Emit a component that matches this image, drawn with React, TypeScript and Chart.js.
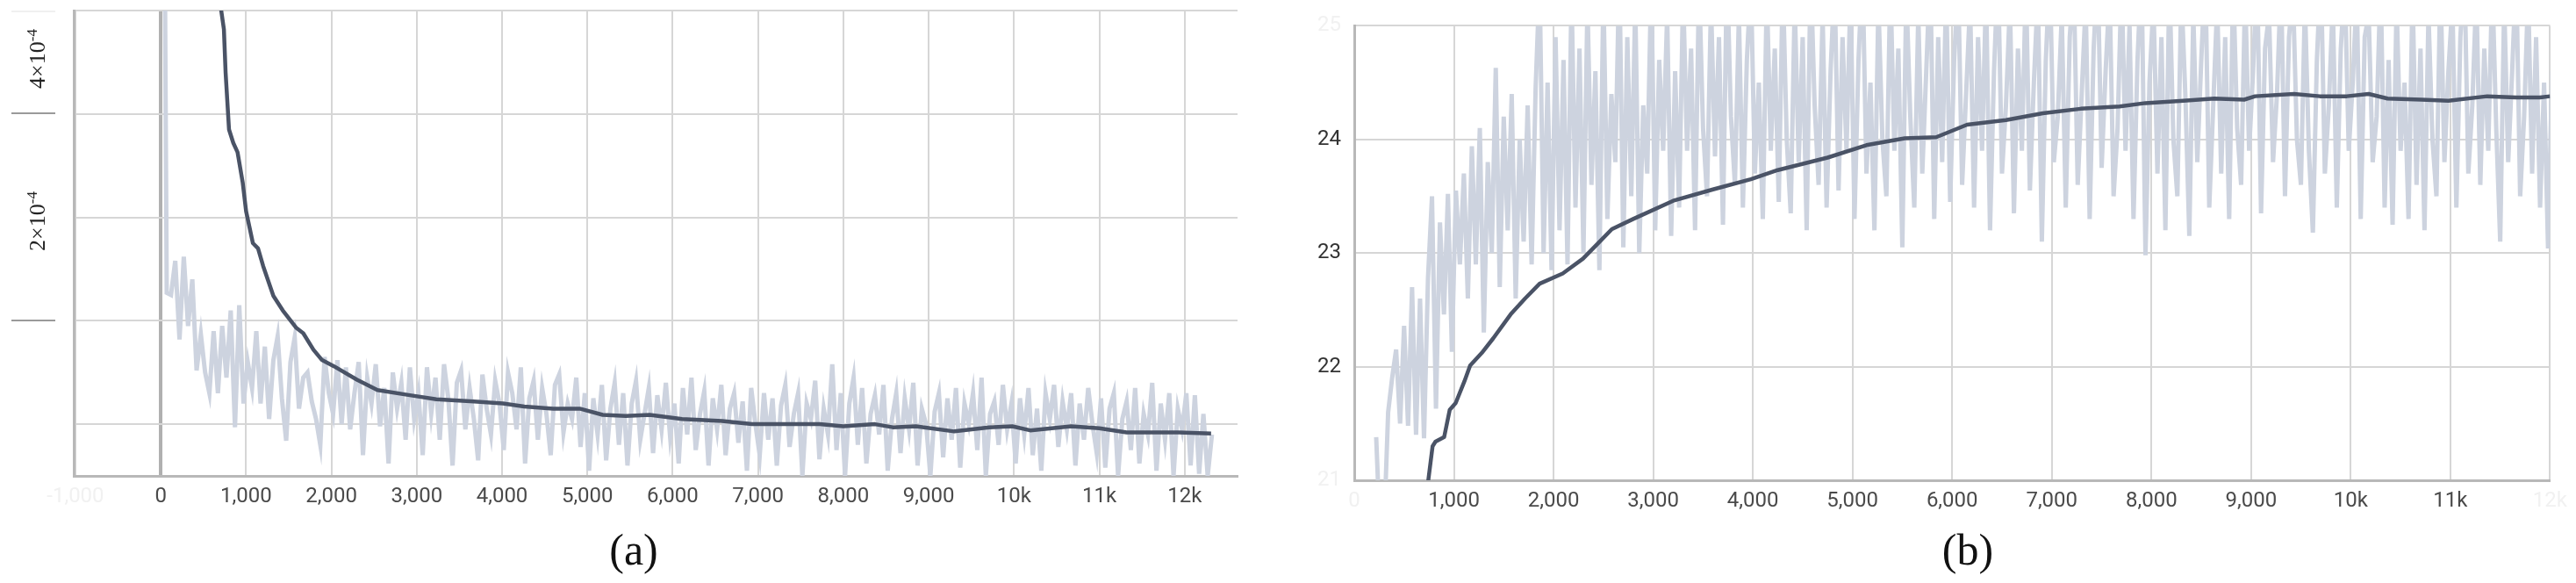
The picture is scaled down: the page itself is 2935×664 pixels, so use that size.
import React, { useEffect, useRef } from "react";
import { Chart, registerables } from "chart.js";

Chart.register(...registerables);

// ---------------- (a) training loss (values in units of 1e-4) ----------------
const lossRawStart = 20;
const lossRawInterval = 50;
const lossRaw = [
  9.5, 2.27, 2.25, 2.58, 1.82, 2.62, 1.95, 2.4, 1.52, 1.87, 1.5, 1.3, 1.9, 1.3, 1.95, 1.45, 2.1, 0.97, 2.15, 1.2,
  1.6, 1.35, 1.9, 1.2, 1.75, 1.05, 1.62, 1.85, 1.25, 0.84, 1.6, 1.84, 1.15, 1.45, 1.5, 1.22, 1.05, 0.8, 1.65, 1.3,
  1.1, 1.62, 1.0, 1.55, 0.95, 1.3, 1.6, 0.7, 1.45, 1.2, 1.58, 0.98, 1.35, 0.62, 1.5, 1.15, 1.4, 0.85, 1.55, 1.05,
  1.3, 0.7, 1.55, 1.1, 1.45, 0.85, 1.58, 1.25, 0.6, 1.4, 1.52, 0.95, 1.35, 1.05, 0.65, 1.48, 1.15, 0.9, 1.42, 1.2,
  0.75, 1.5, 1.3, 0.95, 1.55, 0.62, 1.25, 1.42, 0.85, 1.35, 1.1, 0.7, 1.38, 1.48, 0.92, 1.2, 1.05, 1.45, 0.78, 1.3,
  0.55, 1.25, 0.9, 1.38, 0.65, 1.15, 1.4, 0.8, 1.3, 0.6, 1.2, 1.42, 0.85, 1.1, 1.35, 0.72, 1.28, 0.95, 1.4, 0.88,
  1.2, 0.62, 1.35, 0.9, 1.45, 0.75, 1.1, 1.32, 0.6, 1.25, 0.95, 1.38, 0.7, 1.15, 1.3, 0.82, 1.22, 0.55, 1.35, 1.0,
  0.7, 1.3, 0.85, 1.25, 0.6, 1.18, 1.38, 0.78, 1.1, 1.3, 0.5, 1.2, 1.05, 1.42, 0.66, 1.15, 0.9, 1.58, 0.75, 1.3,
  0.5, 1.2, 1.45, 0.8, 1.35, 0.62, 1.1, 1.28, 0.9, 1.38, 0.55, 1.05, 1.3, 0.72, 1.25, 0.95, 1.4, 0.6, 1.15, 1.0,
  0.5, 1.12, 1.3, 0.68, 1.25, 0.85, 1.35, 0.58, 1.2, 1.0, 1.3, 0.75, 1.45, 0.5, 1.1, 1.22, 0.8, 1.38, 0.95, 1.2,
  0.62, 1.25, 0.9, 1.35, 0.7, 1.15, 0.55, 1.3, 1.05, 1.38, 0.78, 1.22, 0.95, 1.3, 0.6, 1.2, 0.85, 1.35, 1.0, 0.72,
  1.25, 0.58, 1.15, 1.3, 0.5, 1.05, 1.22, 0.75, 1.35, 0.62, 1.1, 0.9, 1.4, 0.55, 1.2, 0.85, 1.3, 0.5, 1.15, 0.95,
  1.3, 0.6, 1.28, 0.52, 1.1, 0.5, 0.9,
];
const lossSmoothSteps = [
  0, 150, 300, 450, 600, 700, 740, 760, 800, 850, 900, 960, 1000, 1080, 1140, 1200, 1320, 1430, 1590, 1670,
  1790, 1890, 2030, 2300, 2540, 2920, 3230, 3670, 4010, 4260, 4600, 4910, 5180, 5450, 5730, 6110, 6580, 6930,
  7380, 7720, 8000, 8370, 8580, 8850, 9300, 9710, 9980, 10190, 10670, 11000, 11320, 11930, 12310,
];
const lossSmooth = [
  14, 10, 8, 6.5, 5.5, 5.05, 4.82, 4.4, 3.85, 3.72, 3.63, 3.34, 3.06, 2.75, 2.7, 2.53, 2.24, 2.1, 1.93, 1.88,
  1.72, 1.62, 1.56, 1.43, 1.33, 1.28, 1.24, 1.22, 1.2, 1.17, 1.15, 1.15, 1.09, 1.08, 1.09, 1.05, 1.03, 1.0,
  1.0, 1.0, 0.98, 1.0, 0.97, 0.98, 0.93, 0.97, 0.98, 0.94, 0.98, 0.96, 0.92, 0.92, 0.91,
];
const lossXTicks = [-1000, 0, 1000, 2000, 3000, 4000, 5000, 6000, 7000, 8000, 9000, 10000, 11000, 12000];
const lossYGrid = [1, 2, 3, 4, 5];

// ---------------- (b) PSNR ----------------
const psnrRawStart = 220;
const psnrRawInterval = 40;
const psnrRaw = [
  21.38, 20.5, 20.6, 21.6, 21.9, 22.15, 21.5, 22.36, 21.48, 22.7, 21.4, 22.6, 21.37, 22.78, 23.5, 21.63, 23.27, 22.46, 23.52, 22.13, 23.55, 22.9, 23.7, 22.6, 23.94,
  22.9, 24.1, 22.3, 23.8, 23.0, 24.63, 22.7, 24.2, 23.2, 24.4, 22.6, 24.0, 23.1, 24.3, 22.9, 24.45, 25.4, 23.0, 24.5, 22.85, 24.9, 23.2, 24.7, 22.9, 25.3,
  23.4, 24.8, 23.0, 25.2, 23.6, 24.6, 22.85, 25.3, 23.3, 24.4, 23.8, 25.5, 23.05, 24.9, 23.5, 25.2, 23.0, 24.3, 23.7, 25.4, 23.2, 24.7, 23.9, 25.1, 23.15,
  24.6, 23.4, 25.3, 23.9, 24.8, 23.2, 25.4, 24.1, 23.5, 25.2, 23.85, 24.9, 23.25, 25.5, 24.2, 23.6, 25.1, 23.4, 24.7, 25.4, 23.7, 24.5, 23.3, 25.3, 23.9,
  24.8, 23.45, 25.4, 24.0, 23.35, 25.2, 23.8, 24.9, 23.2, 25.5, 24.3, 23.6, 25.1, 23.4, 24.6, 25.4, 23.55, 24.9, 23.9, 25.3, 23.3, 24.7, 25.5, 23.7, 24.5,
  23.2, 25.2, 24.0, 23.5, 25.4, 23.9, 24.8, 23.05, 25.3, 24.2, 23.4, 25.1, 23.7, 24.6, 25.5, 23.3, 24.9, 23.8, 25.3, 23.45, 24.7, 25.4, 23.6, 24.4, 25.2,
  23.4, 24.9, 23.9, 25.3, 23.2, 24.6, 25.5, 23.7, 24.3, 25.2, 23.35, 24.8, 23.9, 25.4, 23.55, 24.5, 25.3, 23.1, 24.7, 25.5, 23.8, 24.2, 25.1, 23.4, 24.9,
  25.4, 23.6, 24.4, 25.2, 23.3, 24.8, 25.5, 23.75, 24.6, 25.3, 23.5, 24.1, 25.4, 23.9, 25.0, 23.3, 24.7, 25.5, 22.98, 24.5, 25.2, 23.7, 24.9, 23.2, 25.4,
  24.0, 23.5, 25.3, 24.4, 23.15, 25.1, 23.8, 24.7, 25.5, 23.4, 24.3, 25.2, 23.7, 24.9, 23.3, 25.4, 24.1, 23.6, 25.3, 23.9, 24.6, 25.5, 23.35, 24.8, 25.1,
  23.8, 24.4, 25.4, 23.5, 24.9, 25.3, 24.0, 23.6, 25.2, 23.9, 23.18, 24.7, 25.5, 23.7, 24.3, 25.2, 23.4, 24.8, 25.4, 23.9, 24.5, 25.3, 23.3, 24.9, 25.1,
  23.8, 24.2, 25.4, 23.4, 24.7, 23.25, 25.2, 23.9, 24.5, 23.3, 25.3, 23.6, 24.8, 23.2, 25.1, 24.0, 23.5, 25.4, 23.8, 24.6, 25.2, 23.4, 24.9, 25.5, 23.7,
  24.3, 25.3, 23.6, 24.8, 23.9, 25.4, 24.1, 23.1, 25.2, 23.8, 24.6, 25.5, 23.5, 24.2, 25.3, 23.7, 24.9, 23.4, 24.5, 23.04, 24.6,
];
const psnrSmoothSteps = [
  700, 743, 786, 815, 902, 958, 1018, 1105, 1163, 1279, 1395, 1569, 1714, 1860, 2092, 2295, 2440, 2585, 2800, 3200,
  3600, 3980, 4250, 4750, 5140, 5525, 5840, 6150, 6540, 6910, 7290, 7680, 7940, 8320, 8630, 8930, 9040, 9430, 9690,
  9960, 10180, 10370, 10710, 10980, 11370, 11660, 11900, 12000,
];
const psnrSmooth = [
  20.3, 21.0, 21.3, 21.34, 21.38, 21.62, 21.68, 21.87, 22.01, 22.12, 22.25, 22.46, 22.6, 22.73, 22.82, 22.95, 23.08, 23.21, 23.3, 23.46,
  23.56, 23.65, 23.73, 23.84, 23.95, 24.01, 24.02, 24.13, 24.17, 24.23, 24.27, 24.29, 24.32, 24.34, 24.36, 24.35, 24.38, 24.4, 24.38,
  24.38, 24.4, 24.36, 24.35, 24.34, 24.38, 24.37, 24.37, 24.38,
];
const psnrXTicks = [0, 1000, 2000, 3000, 4000, 5000, 6000, 7000, 8000, 9000, 10000, 11000, 12000];
const psnrYTicks = [21, 22, 23, 24, 25];

// ---------------- styling ----------------
const RAW_COLOR = "#cdd3df";
const SMOOTH_COLOR = "#4a5366";
const GRID_COLOR = "#d6d6d6";
const AXIS_COLOR = "#b8b8b8";
const FADED = "#f1f1f1";
const TICK_FONT = { family: "Roboto", size: 24 };

const fmtStep = (v: number) => (Math.abs(v) >= 10000 ? `${v / 1000}k` : v.toLocaleString("en-US"));
const fromInterval = (start: number, interval: number, values: number[]) =>
  values.map((y, i) => ({ x: start + i * interval, y }));
const zip = (xs: number[], ys: number[]) => xs.map((x, i) => ({ x, y: ys[i] }));

function ChartCanvas({ config, width, height, left }: any) {
  const ref = useRef<HTMLCanvasElement | null>(null);
  useEffect(() => {
    if (!ref.current) return;
    const chart = new Chart(ref.current, config);
    return () => chart.destroy();
  }, []);
  return (
    <canvas
      ref={ref}
      width={width}
      height={height}
      style={{ position: "absolute", left, top: 0, width, height }}
    />
  );
}

function datasets(raw: any[], smooth: any[]) {
  return [
    {
      data: smooth,
      borderColor: SMOOTH_COLOR,
      borderWidth: 4.5,
      pointRadius: 0,
      tension: 0,
      clip: 0,
      borderJoinStyle: "round",
    },
    {
      data: raw,
      borderColor: RAW_COLOR,
      borderWidth: 5,
      pointRadius: 0,
      tension: 0,
      clip: 0,
      borderJoinStyle: "miter",
    },
  ];
}

const lossConfig: any = {
  type: "line",
  data: {
    datasets: datasets(
      fromInterval(lossRawStart, lossRawInterval, lossRaw),
      zip(lossSmoothSteps, lossSmooth)
    ),
  },
  options: {
    responsive: false,
    animation: false,
    events: [],
    layout: { padding: { left: 84, top: 12, right: 30, bottom: 0 } },
    plugins: { legend: { display: false }, tooltip: { enabled: false } },
    scales: {
      x: {
        type: "linear",
        min: -1020,
        max: 12620,
        afterBuildTicks: (s: any) => {
          s.ticks = lossXTicks.map((v) => ({ value: v }));
        },
        afterFit: (s: any) => {
          s.height = 122;
        },
        grid: {
          color: (c: any) => (c.tick && c.tick.value === 0 ? "#b0b0b0" : GRID_COLOR),
          lineWidth: (c: any) => (c.tick && c.tick.value === 0 ? 4 : 2),
          drawTicks: false,
        },
        border: { display: true, color: AXIS_COLOR, width: 3 },
        ticks: {
          font: TICK_FONT,
          color: (c: any) => (c.tick && c.tick.value < 0 ? FADED : "#4a4a4a"),
          padding: 10,
          maxRotation: 0,
          minRotation: 0,
          autoSkip: false,
          callback: (v: any) => fmtStep(Number(v)),
        },
      },
      y: {
        type: "linear",
        min: 0.5,
        max: 5,
        afterBuildTicks: (s: any) => {
          s.ticks = lossYGrid.map((v) => ({ value: v }));
        },
        afterFit: (s: any) => {
          s.width = 0;
        },
        grid: { color: GRID_COLOR, lineWidth: 2, drawTicks: false },
        border: { display: true, color: AXIS_COLOR, width: 3 },
        ticks: { display: false },
      },
    },
  },
};

const psnrConfig: any = {
  type: "line",
  data: {
    datasets: datasets(
      fromInterval(psnrRawStart, psnrRawInterval, psnrRaw),
      zip(psnrSmoothSteps, psnrSmooth)
    ),
  },
  options: {
    responsive: false,
    animation: false,
    events: [],
    layout: { padding: { left: 0, top: 13, right: 14, bottom: 0 } },
    plugins: { legend: { display: false }, tooltip: { enabled: false } },
    scales: {
      x: {
        type: "linear",
        min: 0,
        max: 12000,
        afterBuildTicks: (s: any) => {
          s.ticks = psnrXTicks.map((v) => ({ value: v }));
        },
        afterFit: (s: any) => {
          s.height = 117;
        },
        grid: { color: GRID_COLOR, lineWidth: 2, drawTicks: false },
        border: { display: true, color: AXIS_COLOR, width: 3 },
        ticks: {
          font: TICK_FONT,
          color: (c: any) =>
            c.tick && (c.tick.value === 0 || c.tick.value === 12000) ? FADED : "#4a4a4a",
          padding: 10,
          maxRotation: 0,
          minRotation: 0,
          autoSkip: false,
          callback: (v: any) => fmtStep(Number(v)),
        },
      },
      y: {
        type: "linear",
        min: 21,
        max: 25,
        afterBuildTicks: (s: any) => {
          s.ticks = psnrYTicks.map((v) => ({ value: v }));
        },
        afterFit: (s: any) => {
          s.width = 103;
        },
        grid: { color: GRID_COLOR, lineWidth: 2, drawTicks: false },
        border: { display: true, color: AXIS_COLOR, width: 3 },
        ticks: {
          font: TICK_FONT,
          color: (c: any) =>
            c.tick && (c.tick.value === 21 || c.tick.value === 25) ? FADED : "#333333",
          padding: 15,
          callback: (v: any) => String(v),
        },
      },
    },
  },
};

const serif = "'Liberation Serif', 'Times New Roman', serif";

function RotLabel({ x, y, base }: { x: number; y: number; base: string }) {
  return (
    <div
      style={{
        position: "absolute",
        left: x,
        top: y,
        transform: "translate(-50%, -50%) rotate(-90deg)",
        fontFamily: serif,
        fontSize: 26,
        color: "#222",
        whiteSpace: "nowrap",
        lineHeight: 1,
      }}
    >
      {base}
      <sup style={{ fontSize: 17, verticalAlign: "0.55em" }}>-4</sup>
    </div>
  );
}

function Mark({ y, color }: { y: number; color: string }) {
  return (
    <div style={{ position: "absolute", left: 13, top: y - 1, width: 50, height: 2, background: color }} />
  );
}

function Caption({ x, text }: { x: number; text: string }) {
  return (
    <div
      style={{
        position: "absolute",
        left: x,
        top: 626,
        transform: "translate(-50%, -50%)",
        fontFamily: serif,
        fontSize: 50,
        lineHeight: 1,
        color: "#111",
        whiteSpace: "nowrap",
      }}
    >
      {text}
    </div>
  );
}

export default function App() {
  return (
    <div
      style={{
        position: "absolute",
        left: 0,
        top: 0,
        width: 2935,
        height: 664,
        background: "#ffffff",
        overflow: "hidden",
      }}
    >
      <ChartCanvas config={lossConfig} width={1440} height={664} left={0} />
      <ChartCanvas config={psnrConfig} width={1495} height={664} left={1440} />
      <Mark y={13} color="#f0f0f0" />
      <Mark y={129} color="#9a9a9a" />
      <Mark y={365} color="#9a9a9a" />
      <RotLabel x={42} y={67} base="4×10" />
      <RotLabel x={42} y={252} base="2×10" />
      <Caption x={722} text="(a)" />
      <Caption x={2242} text="(b)" />
    </div>
  );
}
